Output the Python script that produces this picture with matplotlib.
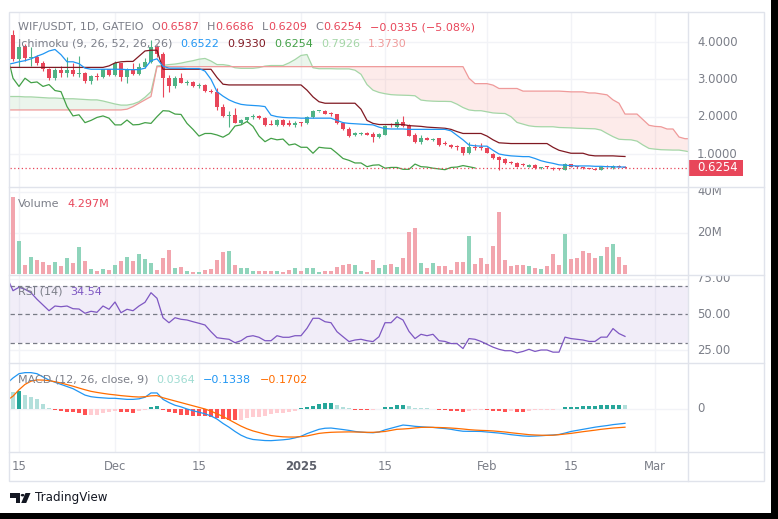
import numpy as np
import pandas as pd
import matplotlib.pyplot as plt
import matplotlib.transforms as mtransforms
from matplotlib.patches import Rectangle, Polygon, Circle

W, H = 778, 519

# ---- daily bars, 13 Nov 2024 .. 24 Feb 2025 ----
dates = pd.date_range('2024-11-13', '2025-02-24', freq='D')
opens = [4.00, 4.19, 3.54, 3.90, 3.56, 3.60, 3.43, 3.27, 3.03, 3.25,
         3.18, 3.25, 3.13, 3.16, 2.96, 3.09, 3.05, 3.27, 3.12, 3.43,
         3.07, 3.25, 3.14, 3.34, 3.47, 3.86, 3.68, 3.03, 2.81, 3.03,
         2.91, 2.93, 2.81, 2.86, 2.70, 2.67, 2.27, 2.02, 2.05, 1.84,
         1.90, 1.98, 2.02, 1.96, 1.80, 1.78, 1.91, 1.80, 1.79, 1.84,
         1.82, 1.98, 2.14, 2.16, 2.08, 2.06, 1.82, 1.66, 1.50, 1.54,
         1.57, 1.54, 1.45, 1.51, 1.80, 1.72, 1.87, 1.78, 1.51, 1.33,
         1.44, 1.38, 1.42, 1.28, 1.24, 1.19, 1.18, 1.02, 1.18, 1.20,
         1.15, 1.00, 0.93, 0.86, 0.77, 0.77, 0.74, 0.66, 0.71, 0.62,
         0.65, 0.62, 0.60, 0.58, 0.72, 0.66, 0.65, 0.62, 0.60, 0.57,
         0.66, 0.62, 0.69, 0.6587]
highs = [4.25, 4.33, 3.96, 3.96, 3.86, 3.66, 3.48, 3.30, 3.30, 3.36,
         3.60, 3.43, 3.62, 3.20, 3.12, 3.18, 3.28, 3.29, 3.48, 3.45,
         3.30, 3.43, 3.43, 3.58, 4.05, 3.92, 3.74, 3.12, 3.08, 3.16,
         2.98, 2.96, 2.90, 2.88, 2.74, 2.76, 2.33, 2.14, 2.24, 1.95,
         2.00, 2.06, 2.05, 1.98, 1.92, 1.93, 1.93, 1.90, 1.88, 1.87,
         2.02, 2.18, 2.16, 2.17, 2.12, 2.08, 1.86, 1.72, 1.60, 1.60,
         1.58, 1.58, 1.56, 1.77, 1.84, 1.93, 2.02, 1.80, 1.56, 1.51,
         1.46, 1.44, 1.44, 1.34, 1.26, 1.24, 1.20, 1.31, 1.28, 1.30,
         1.18, 1.02, 0.95, 0.88, 0.80, 0.79, 0.76, 0.73, 0.73, 0.66,
         0.68, 0.64, 0.62, 0.76, 0.74, 0.68, 0.66, 0.63, 0.62, 0.66,
         0.70, 0.70, 0.71, 0.6686]
lows = [3.95, 3.50, 3.33, 3.50, 3.36, 3.38, 3.22, 2.98, 2.98, 3.05,
        3.07, 3.10, 3.07, 2.90, 2.88, 2.98, 3.03, 3.10, 3.08, 2.96,
        2.90, 3.12, 3.12, 3.30, 3.43, 3.60, 2.53, 2.65, 2.76, 2.90,
        2.86, 2.79, 2.78, 2.66, 2.63, 2.18, 1.98, 1.73, 1.82, 1.80,
        1.86, 1.95, 1.94, 1.76, 1.77, 1.76, 1.76, 1.74, 1.72, 1.76,
        1.80, 1.96, 2.12, 2.06, 2.02, 1.80, 1.64, 1.46, 1.48, 1.50,
        1.50, 1.32, 1.44, 1.50, 1.72, 1.70, 1.73, 1.47, 1.30, 1.28,
        1.37, 1.36, 1.22, 1.24, 1.17, 1.12, 0.98, 0.99, 1.12, 1.12,
        1.02, 0.86, 0.58, 0.74, 0.74, 0.64, 0.68, 0.64, 0.60, 0.60,
        0.62, 0.56, 0.56, 0.56, 0.64, 0.63, 0.61, 0.59, 0.57, 0.56,
        0.64, 0.61, 0.65, 0.6209]
closes = [4.19, 3.54, 3.86, 3.56, 3.60, 3.43, 3.27, 3.03, 3.25, 3.18,
          3.25, 3.13, 3.16, 2.96, 3.09, 3.05, 3.27, 3.12, 3.43, 3.07,
          3.25, 3.14, 3.34, 3.47, 3.86, 3.68, 3.03, 2.81, 3.03, 2.91,
          2.93, 2.81, 2.86, 2.70, 2.67, 2.27, 2.02, 2.05, 1.84, 1.90,
          1.98, 2.02, 1.96, 1.78, 1.78, 1.91, 1.78, 1.79, 1.84, 1.82,
          2.00, 2.16, 2.15, 2.07, 2.06, 1.82, 1.66, 1.48, 1.55, 1.55,
          1.51, 1.45, 1.54, 1.75, 1.78, 1.87, 1.74, 1.48, 1.33, 1.42,
          1.38, 1.40, 1.24, 1.27, 1.18, 1.18, 1.02, 1.18, 1.16, 1.15,
          1.02, 0.88, 0.83, 0.76, 0.76, 0.66, 0.70, 0.71, 0.62, 0.64,
          0.64, 0.59, 0.59, 0.73, 0.66, 0.65, 0.62, 0.60, 0.58, 0.64,
          0.65, 0.69, 0.6589, 0.6254]
volume_m = [20.0, 37.7, 16.1, 4.4, 8.5, 6.8, 6.0, 4.4, 6.0, 3.9,
            8.0, 5.5, 13.2, 6.5, 2.4, 1.5, 2.4, 2.0, 4.4, 6.5,
            8.5, 6.5, 9.9, 7.5, 5.5, 2.0, 7.8, 11.7, 3.1, 3.4,
            1.5, 1.0, 1.0, 2.0, 2.4, 6.8, 10.7, 11.2, 4.4, 3.0,
            3.0, 1.5, 1.5, 1.5, 1.5, 1.5, 1.0, 2.0, 3.0, 1.5,
            3.0, 3.0, 1.0, 1.5, 1.5, 3.4, 4.4, 4.9, 4.4, 1.5,
            1.0, 6.8, 3.0, 4.4, 4.9, 3.4, 7.8, 20.5, 22.4, 5.4,
            2.9, 5.4, 3.9, 3.9, 2.0, 5.9, 5.9, 18.5, 4.9, 7.8,
            4.9, 13.7, 30.2, 6.8, 3.9, 4.4, 4.4, 3.9, 2.9, 2.4,
            3.9, 9.8, 4.4, 19.5, 7.3, 7.8, 11.2, 10.2, 7.8, 8.8,
            13.2, 14.6, 8.3, 4.297]

# Ichimoku (9, 26, 52, 26, 26)
conversion = [3.40, 3.43, 3.47, 3.50, 3.55, 3.62, 3.68, 3.76, 3.80, 3.66,
              3.47, 3.47, 3.42, 3.30, 3.27, 3.27, 3.27, 3.27, 3.27, 3.27,
              3.26, 3.26, 3.26, 3.30, 3.50, 3.55, 3.35, 3.30, 3.30, 3.30,
              3.29, 3.29, 3.29, 3.22, 3.00, 2.67, 2.55, 2.45, 2.38, 2.33,
              2.31, 2.30, 2.29, 2.27, 2.04, 2.00, 1.98, 1.97, 1.97, 1.96,
              1.96, 1.96, 1.96, 1.96, 1.96, 1.90, 1.84, 1.82, 1.81, 1.80,
              1.79, 1.78, 1.72, 1.68, 1.67, 1.67, 1.67, 1.66, 1.66, 1.66,
              1.66, 1.66, 1.66, 1.66, 1.62, 1.50, 1.38, 1.24, 1.22, 1.21,
              1.21, 1.10, 1.00, 0.97, 0.95, 0.94, 0.93, 0.93, 0.88, 0.82,
              0.78, 0.75, 0.71, 0.70, 0.69, 0.68, 0.68, 0.68, 0.67, 0.67,
              0.66, 0.66, 0.65, 0.6522]
base = [3.32, 3.32, 3.32, 3.32, 3.32, 3.32, 3.32, 3.32, 3.32, 3.32,
        3.32, 3.32, 3.32, 3.32, 3.32, 3.32, 3.32, 3.36, 3.44, 3.47,
        3.48, 3.48, 3.62, 3.76, 3.78, 3.78, 3.27, 3.27, 3.27, 3.27,
        3.27, 3.27, 3.27, 3.27, 3.27, 3.05, 2.87, 2.85, 2.85, 2.85,
        2.85, 2.85, 2.85, 2.85, 2.85, 2.85, 2.85, 2.85, 2.85, 2.85,
        2.71, 2.53, 2.40, 2.36, 2.36, 2.36, 2.36, 2.36, 2.36, 2.20,
        1.90, 1.82, 1.79, 1.79, 1.79, 1.79, 1.79, 1.76, 1.75, 1.74,
        1.72, 1.71, 1.70, 1.69, 1.66, 1.60, 1.55, 1.55, 1.55, 1.55,
        1.48, 1.38, 1.30, 1.29, 1.28, 1.28, 1.28, 1.28, 1.28, 1.28,
        1.28, 1.18, 1.10, 1.06, 1.02, 1.02, 1.02, 0.97, 0.95, 0.95,
        0.95, 0.95, 0.94, 0.9330]
lead_dates = pd.date_range('2024-11-13', periods=115, freq='D')
lead_a = [2.54, 2.54, 2.54, 2.53, 2.53, 2.52, 2.51, 2.50, 2.50, 2.49,
          2.48, 2.48, 2.47, 2.46, 2.45, 2.45, 2.42, 2.38, 2.34, 2.31,
          2.31, 2.34, 2.40, 2.52, 2.67, 3.36, 3.375, 3.395, 3.41, 3.435,
          3.47, 3.50, 3.54, 3.56, 3.49, 3.395, 3.395, 3.37, 3.31, 3.295,
          3.295, 3.295, 3.315, 3.355, 3.37, 3.37, 3.37, 3.44, 3.53, 3.64,
          3.665, 3.31, 3.285, 3.285, 3.285, 3.28, 3.28, 3.28, 3.245, 3.135,
          2.86, 2.71, 2.65, 2.615, 2.59, 2.58, 2.575, 2.57, 2.56, 2.445,
          2.425, 2.415, 2.41, 2.41, 2.405, 2.335, 2.245, 2.18, 2.16, 2.16,
          2.13, 2.10, 2.09, 2.085, 2.0, 1.845, 1.80, 1.755, 1.735, 1.73,
          1.73, 1.73, 1.71, 1.705, 1.70, 1.69, 1.685, 1.68, 1.675, 1.64,
          1.55, 1.465, 1.395, 1.385, 1.38, 1.345, 1.24, 1.15, 1.13, 1.115,
          1.11, 1.105, 1.105, 1.08, 1.05]
lead_b = [2.18, 2.18, 2.18, 2.18, 2.18, 2.18, 2.18, 2.18, 2.18, 2.18,
          2.18, 2.18, 2.18, 2.18, 2.18, 2.18, 2.18, 2.18, 2.18, 2.18,
          2.20, 2.27, 2.36, 2.45, 2.54, 3.34, 3.34, 3.34, 3.34, 3.34,
          3.34, 3.34, 3.34, 3.34, 3.34, 3.34, 3.34, 3.34, 3.34, 3.34,
          3.34, 3.34, 3.34, 3.34, 3.34, 3.34, 3.34, 3.34, 3.34, 3.34,
          3.34, 3.34, 3.34, 3.34, 3.34, 3.34, 3.34, 3.34, 3.34, 3.34,
          3.34, 3.34, 3.34, 3.34, 3.34, 3.34, 3.34, 3.34, 3.34, 3.34,
          3.34, 3.34, 3.34, 3.34, 3.34, 3.34, 3.34, 3.03, 2.885, 2.885,
          2.885, 2.845, 2.755, 2.755, 2.755, 2.755, 2.685, 2.685, 2.685, 2.685,
          2.685, 2.685, 2.685, 2.675, 2.665, 2.665, 2.665, 2.635, 2.635, 2.61,
          2.585, 2.45, 2.36, 2.07, 2.07, 2.07, 1.92, 1.77, 1.74, 1.73,
          1.67, 1.67, 1.455, 1.41, 1.41]
lead_a_now, lead_b_now = 0.7926, 1.3730

rsi = [76.0, 66.5, 68.9, 67.5, 65.1, 60.5, 56.5, 52.5, 55.8, 55.3,
       55.8, 53.9, 53.7, 50.7, 52.1, 51.4, 55.8, 53.5, 58.6, 51.1,
       53.5, 52.5, 55.8, 58.4, 65.1, 61.2, 47.6, 44.1, 47.6, 46.5,
       46.0, 44.8, 43.7, 42.5, 37.8, 33.6, 33.0, 32.5, 30.1, 31.5,
       34.3, 35.0, 33.9, 31.5, 31.5, 35.0, 33.9, 33.9, 35.0, 35.0,
       40.2, 47.2, 47.2, 44.8, 44.1, 37.8, 34.3, 30.9, 32.0, 32.5,
       31.5, 30.9, 34.3, 44.1, 44.1, 48.3, 46.0, 38.0, 33.0, 36.0,
       35.0, 36.0, 31.5, 31.0, 29.5, 29.5, 26.0, 33.0, 32.5, 31.0,
       29.0, 27.0, 25.5, 24.5, 24.5, 23.0, 24.0, 25.5, 24.0, 25.0,
       25.0, 23.5, 23.5, 34.0, 33.0, 32.5, 32.0, 31.0, 31.0, 34.0,
       34.0, 40.0, 36.5, 34.54]

macd = [0.24, 0.29, 0.33, 0.34, 0.34, 0.33, 0.30, 0.27, 0.25, 0.23,
        0.21, 0.19, 0.16, 0.13, 0.115, 0.108, 0.104, 0.10, 0.10, 0.095,
        0.09, 0.09, 0.095, 0.11, 0.15, 0.15, 0.09, 0.06, 0.035, 0.02,
        0.0, -0.016, -0.03, -0.045, -0.065, -0.094, -0.135, -0.17, -0.21, -0.245,
        -0.27, -0.285, -0.29, -0.295, -0.296, -0.292, -0.288, -0.282, -0.27, -0.255,
        -0.23, -0.21, -0.19, -0.18, -0.178, -0.185, -0.192, -0.20, -0.21, -0.216,
        -0.22, -0.222, -0.215, -0.195, -0.18, -0.165, -0.15, -0.155, -0.162, -0.166,
        -0.17, -0.172, -0.178, -0.183, -0.19, -0.20, -0.208, -0.209, -0.209, -0.21,
        -0.215, -0.22, -0.225, -0.232, -0.24, -0.246, -0.252, -0.255, -0.253, -0.25,
        -0.246, -0.243, -0.238, -0.225, -0.21, -0.20, -0.19, -0.18, -0.17, -0.162,
        -0.155, -0.146, -0.14, -0.1338]
signal = [0.08, 0.12, 0.18, 0.23, 0.26, 0.272, 0.27, 0.265, 0.255, 0.243,
          0.228, 0.213, 0.196, 0.18, 0.165, 0.155, 0.146, 0.138, 0.132, 0.125,
          0.12, 0.115, 0.112, 0.115, 0.123, 0.125, 0.105, 0.09, 0.075, 0.06,
          0.045, 0.03, 0.015, 0.0, -0.02, -0.045, -0.07, -0.10, -0.13, -0.16,
          -0.185, -0.205, -0.22, -0.235, -0.248, -0.255, -0.26, -0.262, -0.262, -0.258,
          -0.252, -0.24, -0.228, -0.222, -0.218, -0.216, -0.215, -0.214, -0.215, -0.216,
          -0.218, -0.218, -0.215, -0.21, -0.20, -0.19, -0.187, -0.183, -0.177, -0.172,
          -0.171, -0.172, -0.173, -0.175, -0.178, -0.182, -0.187, -0.193, -0.197, -0.20,
          -0.202, -0.205, -0.21, -0.215, -0.222, -0.228, -0.234, -0.24, -0.243, -0.245,
          -0.246, -0.245, -0.24, -0.234, -0.228, -0.22, -0.212, -0.205, -0.198, -0.19,
          -0.184, -0.178, -0.174, -0.1702]
hist = [0.16, 0.16, 0.17, 0.13, 0.115, 0.09, 0.044, 0.012, -0.014, -0.019,
        -0.026, -0.030, -0.042, -0.054, -0.054, -0.054, -0.042, -0.030, -0.023, -0.030,
        -0.032, -0.035, -0.019, -0.007, 0.016, 0.028, -0.014, -0.030, -0.042, -0.054,
        -0.058, -0.061, -0.065, -0.070, -0.077, -0.088, -0.094, -0.100, -0.107, -0.100,
        -0.084, -0.077, -0.073, -0.061, -0.049, -0.042, -0.037, -0.030, -0.019, 0.006,
        0.016, 0.031, 0.050, 0.056, 0.057, 0.037, 0.019, 0.006, -0.007, -0.010,
        -0.012, -0.009, -0.004, 0.016, 0.019, 0.037, 0.040, 0.031, 0.012, 0.009,
        0.006, 0.003, -0.009, -0.010, -0.016, -0.018, -0.028, -0.016, -0.012, -0.010,
        -0.013, -0.016, -0.022, -0.028, -0.022, -0.028, -0.030, -0.016, -0.012, -0.009,
        -0.008, -0.006, 0.003, 0.016, 0.022, 0.023, 0.024, 0.031, 0.032, 0.033,
        0.034, 0.039, 0.041, 0.0364]

tick_dates = pd.to_datetime(['2024-11-15', '2024-12-01', '2024-12-15', '2025-01-01',
                             '2025-01-15', '2025-02-01', '2025-02-15', '2025-03-01'])
tick_labels = ['15', 'Dec', '15', '2025', '15', 'Feb', '15', 'Mar']

# ---- colours ----
UP, DOWN = '#4fb386', '#e8465a'
VOL_UP, VOL_DOWN = '#8fd4bb', '#f2a5ae'
RED_TXT = '#e8465a'
GRAY = '#7b7e88'
GRID = '#f2f3f7'
SEP = '#e0e3eb'

ref = pd.Timestamp('2024-11-15')
days = np.asarray((dates - ref).days, dtype=float)
lead_days = np.asarray((lead_dates - ref).days, dtype=float)
tick_days = np.asarray((tick_dates - ref).days, dtype=float)
o, hi, lo, c = (np.array(v) for v in (opens, highs, lows, closes))
up = c >= o

fig = plt.figure(figsize=(W / 100, H / 100), dpi=100)
fig.patch.set_facecolor('white')


def rect(x0, y0, x1, y1):
    return [x0 / W, 1 - y1 / H, (x1 - x0) / W, (y1 - y0) / H]


def make_pane(y0, y1, ylim):
    ax = fig.add_axes(rect(10, y0, 688, y1))
    lab = fig.add_axes(rect(688, y0, 764, y1))
    ax.set_xlim(-1.5, 111.5)
    for a in (ax, lab):
        a.set_ylim(*ylim)
        a.set_xticks([])
        a.set_yticks([])
        for s in a.spines.values():
            s.set_visible(False)
        a.patch.set_alpha(0)
    for d in tick_days:
        ax.axvline(d, color=GRID, lw=1, zorder=0)
    return ax, lab


def right_labels(lab, values, labels):
    tr = mtransforms.blended_transform_factory(lab.transAxes, lab.transData)
    for v, s in zip(values, labels):
        lab.text(9 / 76, v, s, transform=tr, fontsize=8.4, color=GRAY,
                 va='center', ha='left', clip_on=True)


def legend_row(y, pieces, x0=18):
    r = fig.canvas.get_renderer()
    x = x0
    for s, col, gap in pieces:
        t = fig.text(x / W, 1 - y / H, s, color=col, fontsize=8,
                     va='center', ha='left')
        x += t.get_window_extent(renderer=r).width + gap


# ---- price pane ----
ax, lab = make_pane(12, 187, (0.116, 4.804))
for v in (1, 2, 3, 4):
    ax.axhline(v, color=GRID, lw=1, zorder=0)
la, lb = np.array(lead_a), np.array(lead_b)
ax.fill_between(lead_days, la, lb, where=la >= lb, interpolate=True,
                color='#43a047', alpha=0.1, lw=0, zorder=1)
ax.fill_between(lead_days, la, lb, where=la < lb, interpolate=True,
                color='#f44336', alpha=0.1, lw=0, zorder=1)
ax.plot(lead_days, la, color='#a5d6a7', lw=0.9, zorder=2)
ax.plot(lead_days, lb, color='#ef9a9a', lw=0.9, zorder=2)
ccol = np.where(up, UP, DOWN)
ax.vlines(days, lo, hi, colors=ccol, lw=0.8, zorder=3)
ax.bar(days, np.maximum(np.abs(c - o), 0.028), bottom=np.minimum(o, c),
       width=0.8, color=ccol, lw=0, zorder=4)
ax.plot(days - 25, c, color='#43a047', lw=0.9, zorder=5)
ax.plot(days, base, color='#801922', lw=0.9, zorder=5)
ax.plot(days, conversion, color='#2196f3', lw=0.9, zorder=5)
ax.axhline(c[-1], color=DOWN, lw=0.9, ls=(0, (1, 2)), zorder=6)
right_labels(lab, [1, 2, 3, 4], ['1.0000', '2.0000', '3.0000', '4.0000'])
trp = mtransforms.blended_transform_factory(lab.transAxes, lab.transData)
lab.add_patch(Rectangle((0, c[-1] - 0.214), 55 / 76, 0.428, transform=trp,
                        color=DOWN, lw=0, clip_on=False))
lab.text(9 / 76, c[-1], f'{c[-1]:.4f}', transform=trp, fontsize=8.4,
         color='white', va='center', ha='left')

# ---- volume pane ----
axv, labv = make_pane(187, 275, (-0.49, 42.4))
for v in (20, 40):
    axv.axhline(v, color=GRID, lw=1, zorder=0)
axv.bar(days, volume_m, width=0.8, color=np.where(up, VOL_UP, VOL_DOWN),
        lw=0, zorder=2)
right_labels(labv, [20, 40], ['20M', '40M'])

# ---- RSI pane ----
axr, labr = make_pane(275, 363, (15.9, 77.5))
for v in (25, 75):
    axr.axhline(v, color=GRID, lw=1, zorder=0)
axr.axhspan(30, 70, color='#7e57c2', alpha=0.1, lw=0, zorder=1)
for v in (70, 50, 30):
    axr.axhline(v, color='#787b86', lw=0.9, ls=(0, (3.5, 2.5)), zorder=2)
axr.plot(days, rsi, color='#7e57c2', lw=0.9, zorder=3)
right_labels(labr, [75, 50, 25], ['75.00', '50.00', '25.00'])

# ---- MACD pane ----
axm, labm = make_pane(363, 452, (-0.402, 0.43))
axm.axhline(0, color=GRID, lw=1, zorder=0)
hv = np.array(hist)
prev = np.concatenate([[hv[0]], hv[:-1]])
hcol = np.where(hv >= 0, np.where(hv > prev, '#26a69a', '#b2dfdb'),
                np.where(hv < prev, '#ff5252', '#ffcdd2'))
hcol[0] = '#b2dfdb'
axm.bar(days, hv, width=0.8, color=hcol, lw=0, zorder=2)
axm.plot(days, macd, color='#2196f3', lw=0.9, zorder=3)
axm.plot(days, signal, color='#ff6d00', lw=0.9, zorder=3)
right_labels(labm, [0], ['0'])

# ---- time axis ----
trt = mtransforms.blended_transform_factory(axm.transData, fig.transFigure)
for d, s in zip(tick_days, tick_labels):
    bold = s == '2025'
    axm.text(d, 1 - 467 / H, s, transform=trt, ha='center', va='center',
             fontsize=8.4, color='#5d606b' if bold else GRAY,
             fontweight='bold' if bold else 'normal', clip_on=False)

# ---- legends ----
MINUS = '\u2212'
chg = c[-1] - c[-2]
pct = chg / c[-2] * 100
legend_row(27, [('WIF/USDT, 1D, GATEIO', GRAY, 8),
                ('O', GRAY, 0), (f'{o[-1]:.4f}', RED_TXT, 8),
                ('H', GRAY, 0), (f'{hi[-1]:.4f}', RED_TXT, 8),
                ('L', GRAY, 0), (f'{lo[-1]:.4f}', RED_TXT, 8),
                ('C', GRAY, 0), (f'{c[-1]:.4f}', RED_TXT, 8),
                (f'{MINUS}{abs(chg):.4f} ({MINUS}{abs(pct):.2f}%)', RED_TXT, 0)])
legend_row(44, [('Ichimoku (9, 26, 52, 26, 26)', GRAY, 8),
                (f'{conversion[-1]:.4f}', '#2196f3', 8),
                (f'{base[-1]:.4f}', '#801922', 8),
                (f'{c[-1]:.4f}', '#43a047', 8),
                (f'{lead_a_now:.4f}', '#a5d6a7', 8),
                (f'{lead_b_now:.4f}', '#ef9a9a', 0)])
legend_row(204, [('Volume', GRAY, 8), (f'{volume_m[-1]:.3f}M', RED_TXT, 0)])
legend_row(292, [('RSI (14)', GRAY, 8), (f'{rsi[-1]:.2f}', '#7e57c2', 0)])
legend_row(380, [('MACD (12, 26, close, 9)', GRAY, 8),
                 (f'{hist[-1]:.4f}', '#9fdcd2', 8),
                 (f'{MINUS}{abs(macd[-1]):.4f}', '#2196f3', 8),
                 (f'{MINUS}{abs(signal[-1]):.4f}', '#ff6d00', 0)])

# ---- frame, separators ----
ff = fig.transFigure


def fline(x0, y0, x1, y1, color=SEP):
    fig.add_artist(plt.Line2D([x0 / W, x1 / W], [1 - y0 / H, 1 - y1 / H],
                              transform=ff, color=color, lw=1))


for y in (187, 275, 363, 452):
    fline(9, y, 764, y)
fline(688, 12, 688, 481)
fig.add_artist(Rectangle((9 / W, 1 - 481 / H), 755 / W, 469 / H, transform=ff,
                         fill=False, edgecolor=SEP, lw=1))

# ---- TradingView logo ----
def fp(x, y):
    return (x / W, 1 - y / H)


fig.add_artist(Polygon([fp(10, 493), fp(20, 493), fp(20, 503), fp(15.5, 503),
                        fp(15.5, 497.5), fp(10, 497.5)], closed=True,
                       transform=ff, color='#131722', lw=0))
fig.add_artist(Circle(fp(22.6, 495.2), 1.9 / W, transform=ff,
                      color='#131722', lw=0))
fig.add_artist(Polygon([fp(25.5, 493), fp(30.5, 493), fp(26.2, 503),
                        fp(21.2, 503)], closed=True, transform=ff,
                       color='#131722', lw=0))
fig.text(35 / W, 1 - 498 / H, 'TradingView', fontsize=8.6, color='#131722',
         va='center', ha='left')

# black screen edge
fig.add_artist(Rectangle((771 / W, 0), 7 / W, 1, transform=ff, color='black', lw=0))
fig.add_artist(Rectangle((0, 0), 1, 6 / H, transform=ff, color='black', lw=0))

fig.savefig('out.png', dpi=100, facecolor='white')
